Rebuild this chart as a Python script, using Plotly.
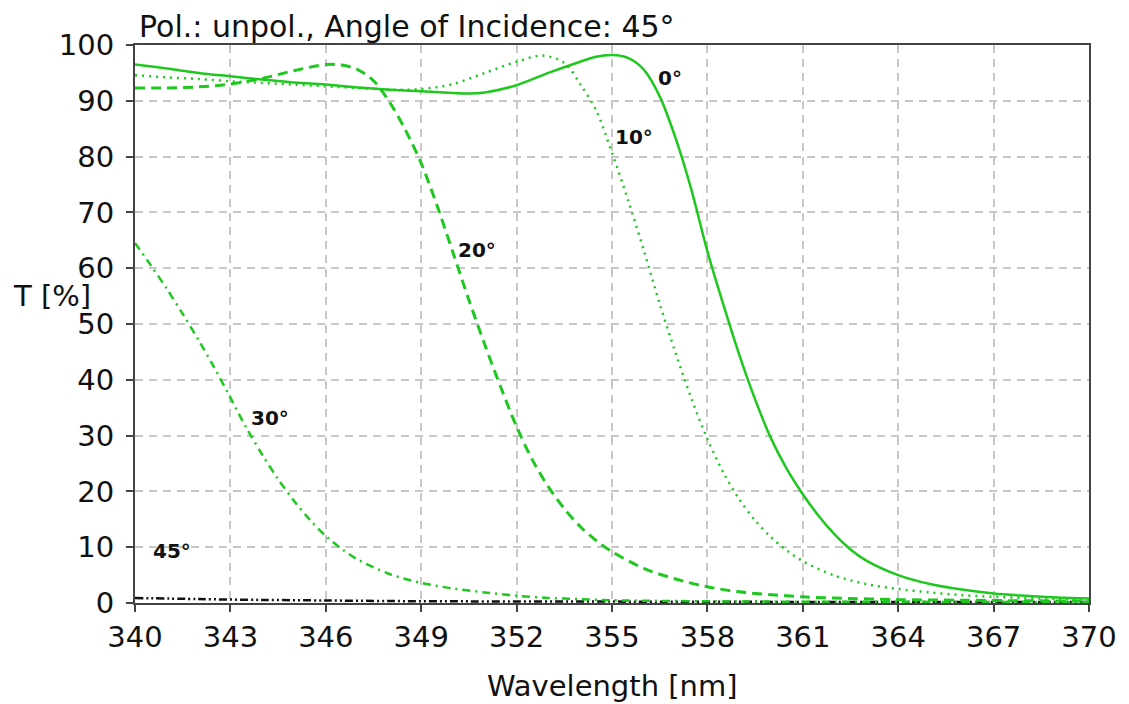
import plotly.graph_objects as go

# ---- data ----
wl_0 = [340, 341, 342, 343, 344, 345, 346, 347, 348, 349, 350, 350.5, 351, 352, 353, 354,
        354.5, 355, 355.5, 356, 356.5, 357, 357.5, 358, 358.5, 359, 359.5, 360, 360.5,
        361, 361.5, 362, 362.5, 363, 364, 365, 366, 367, 368, 369, 370]
t_0 = [96.5, 95.8, 95.0, 94.4, 93.8, 93.3, 92.9, 92.4, 92.0, 91.7, 91.4, 91.3, 91.5, 92.8,
       95.0, 97.0, 97.9, 98.2, 97.7, 95.6, 90.8, 83.3, 74.0, 63.0, 53.5, 44.5, 36.5, 29.5,
       24.0, 19.5, 15.6, 12.3, 9.6, 7.6, 5.0, 3.4, 2.4, 1.7, 1.3, 1.0, 0.8]

wl_10 = [340, 341, 342, 343, 344, 345, 346, 347, 348, 349, 350, 351, 352, 352.8, 353.5, 354,
         354.5, 355, 355.5, 356, 356.5, 357, 357.5, 358, 358.5, 359, 359.5, 360, 360.5,
         361, 362, 363, 364, 365, 366, 367, 368, 369, 370]
t_10 = [94.6, 94.2, 93.9, 93.5, 93.2, 92.9, 92.6, 92.3, 92.0, 92.1, 93.0, 95.0, 97.0, 98.1,
        96.8, 93.0, 88.3, 80.7, 72.3, 63.2, 53.6, 44.8, 36.6, 29.4, 23.4, 18.6, 14.8, 11.8,
        9.4, 7.5, 4.9, 3.4, 2.5, 1.9, 1.4, 1.1, 0.9, 0.7, 0.6]

wl_20 = [340, 341, 342, 343, 344, 345, 346, 346.5, 347, 347.5, 348, 348.5, 349, 349.5, 350,
         350.5, 351, 351.5, 352, 352.5, 353, 353.5, 354, 354.5, 355, 356, 357, 358, 359, 360,
         361, 362, 364, 366, 368, 370]
t_20 = [92.3, 92.3, 92.5, 93.0, 94.0, 95.4, 96.5, 96.4, 95.6, 93.6, 89.8, 84.8, 78.8, 71.2,
        62.8, 54.3, 46.3, 38.7, 31.6, 25.6, 20.8, 16.9, 13.7, 11.2, 9.2, 6.2, 4.3, 2.9, 2.0,
        1.5, 1.1, 0.9, 0.6, 0.5, 0.4, 0.35]

wl_30 = [340, 340.5, 341, 341.5, 342, 342.5, 343, 343.5, 344, 344.5, 345, 345.5, 346, 346.5,
         347, 348, 349, 350, 351, 352, 353, 354, 355, 357, 360, 365, 370]
t_30 = [64.5, 60.5, 56.3, 51.8, 47.1, 42.1, 36.8, 31.4, 26.6, 22.2, 18.3, 14.9, 12.0, 9.7,
        7.8, 5.2, 3.6, 2.6, 1.9, 1.3, 0.9, 0.7, 0.5, 0.35, 0.25, 0.2, 0.2]

wl_45 = [340, 342, 344, 346, 348, 350, 355, 360, 365, 370]
t_45 = [0.9, 0.7, 0.55, 0.45, 0.35, 0.3, 0.25, 0.2, 0.2, 0.2]

label_text = ["0°", "10°", "20°", "30°", "45°"]
label_x = [356.82, 355.69, 350.74, 344.23, 341.16]
label_y = [94.1, 83.5, 63.3, 33.2, 9.3]

x_ticks = list(range(340, 371, 3))
y_ticks = list(range(0, 101, 10))

GREEN = "#1ec81e"
FONT = "DejaVu Sans"

fig = go.Figure()
series = [
    (wl_45, t_45, "#111111", "8px,3px,2px,3px,2px,3px", 2.5),
    (wl_30, t_30, GREEN, "8px,5px,2px,5px", 2.5),
    (wl_20, t_20, GREEN, "10px,6px", 3),
    (wl_10, t_10, GREEN, "2px,5px", 2.5),
    (wl_0, t_0, GREEN, "solid", 2.5),
]
for xs, ys, col, dash, w in series:
    fig.add_trace(go.Scatter(x=xs, y=ys, mode="lines",
                             line=dict(color=col, width=w, dash=dash, shape="spline", smoothing=0.9),
                             showlegend=False, hoverinfo="skip"))

for t, x, y in zip(label_text, label_x, label_y):
    fig.add_annotation(x=x, y=y, text="<b>" + t + "</b>", showarrow=False,
                       font=dict(family=FONT, size=20, color="#111111"))

fig.add_annotation(xref="paper", yref="paper", x=0.002, y=1.033, xanchor="left", yanchor="middle",
                   text="Pol.: unpol., Angle of Incidence: 45°", showarrow=False,
                   font=dict(family=FONT, size=30, color="#111111"))
fig.add_annotation(xref="paper", yref="paper", x=-0.0866, y=0.550, xanchor="center", yanchor="middle",
                   text="T [%]", showarrow=False, font=dict(family=FONT, size=29, color="#111111"))
fig.add_annotation(xref="paper", yref="paper", x=0.50, y=-0.149, xanchor="center", yanchor="middle",
                   text="Wavelength [nm]", showarrow=False, font=dict(family=FONT, size=29, color="#111111"))

axis_common = dict(showline=True, linecolor="#444444", linewidth=2, mirror=True,
                   ticks="outside", ticklen=7, tickwidth=2, tickcolor="#444444",
                   showgrid=True, gridcolor="#c8c8c8", gridwidth=1.5, griddash="8px,6px",
                   zeroline=False, tickfont=dict(family=FONT, size=29, color="#111111"))

fig.update_xaxes(range=[340, 370], tickvals=x_ticks, ticktext=[str(v) for v in x_ticks],
                 ticklabelstandoff=0, **axis_common)
fig.update_yaxes(range=[0, 100], tickvals=y_ticks, ticktext=[str(v) for v in y_ticks],
                 ticklabelstandoff=6, **axis_common)

# the page adds an 8px body margin, so the figure is made 8px smaller and the margins shifted
fig.update_layout(width=1121, height=696, margin=dict(l=127, r=36, t=37, b=101),
                  plot_bgcolor="white", paper_bgcolor="white",
                  font=dict(family=FONT, color="#111111"))

fig.write_html("out.html")
